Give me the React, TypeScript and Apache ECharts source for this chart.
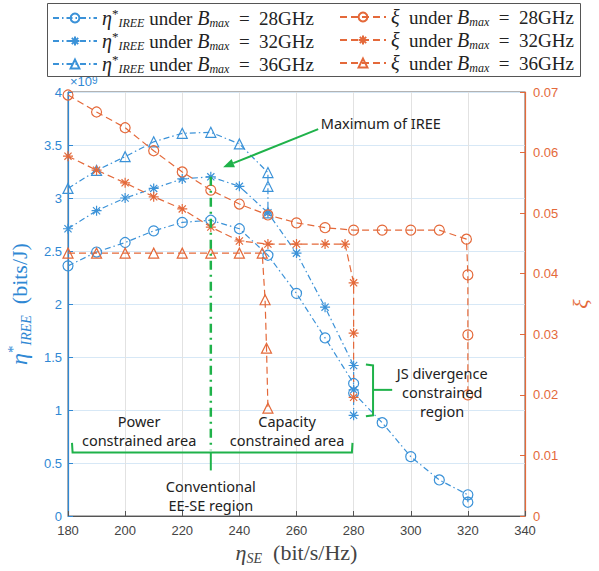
import React, { useEffect, useRef } from 'react';
import * as echarts from 'echarts';

// ---------- data ----------
const b28X = [180, 190, 200, 210, 220, 230, 240, 250, 260, 270, 280, 280, 290, 300, 310, 320, 320];
const b28Y = [2.36, 2.49, 2.58, 2.69, 2.77, 2.79, 2.71, 2.46, 2.10, 1.68, 1.25, 1.16, 0.88, 0.56, 0.34, 0.20, 0.13];

const b32X = [180, 190, 200, 210, 220, 230, 240, 250, 260, 270, 280, 280, 280];
const b32Y = [2.71, 2.88, 3.00, 3.09, 3.18, 3.20, 3.11, 2.86, 2.48, 1.97, 1.42, 1.19, 0.95];

const b36X = [180, 190, 200, 210, 220, 230, 240, 250, 250, 250];
const b36Y = [3.09, 3.26, 3.39, 3.53, 3.61, 3.62, 3.51, 3.24, 3.11, 2.86];

const r28X = [180, 190, 200, 210, 220, 230, 240, 250, 260, 270, 280, 290, 300, 310, 319.5, 320, 320, 320];
const r28Y = [0.0695, 0.0667, 0.0641, 0.0603, 0.0568, 0.0538, 0.0515, 0.0497, 0.0484, 0.0476, 0.0472, 0.0472, 0.0472, 0.0472, 0.0457, 0.0398, 0.0299, 0.0200];

const r32X = [180, 190, 200, 210, 220, 230, 240, 250, 260, 270, 277, 280, 280, 280];
const r32Y = [0.0594, 0.0571, 0.0550, 0.0527, 0.0507, 0.0477, 0.0454, 0.0449, 0.0449, 0.0449, 0.0449, 0.0385, 0.0302, 0.0196];

const r36X = [180, 190, 200, 210, 220, 230, 240, 248, 249, 249.5, 250];
const r36Y = [0.0434, 0.0434, 0.0434, 0.0434, 0.0434, 0.0434, 0.0434, 0.0434, 0.0357, 0.0277, 0.0178];

const bandwidths = ['28GHz', '32GHz', '36GHz'];

// ---------- style ----------
const BLUE = '#2f88d4';
const BLUE_LINE = '#3b92d8';
const ORANGE = '#e4693a';
const GREEN = '#1fb24a';
const SERIF = "'Liberation Serif','DejaVu Serif',serif";
const SANS = "'Liberation Sans',Arial,sans-serif";
const ANNO = "'Noto Sans','Open Sans',sans-serif";
const STAR = 'path://M0,-6L0,6M-6,0L6,0M-4.3,-4.3L4.3,4.3M-4.3,4.3L4.3,-4.3';
const DASHDOT = [6, 3, 1.5, 3];
const DASH = [7, 4];

function mk(name: string, xs: number[], ys: number[], color: string, yAxisIndex: number, symbol: string, dash: number[]) {
  return {
    name,
    type: 'line',
    yAxisIndex,
    data: xs.map((x, i) => [x, ys[i]]),
    symbol,
    symbolSize: 10,
    showSymbol: true,
    silent: true,
    emphasis: { disabled: true },
    lineStyle: { color, width: 1.2, type: dash },
    itemStyle: { color: 'rgba(255,255,255,0)', borderColor: color, borderWidth: 1.2 },
  };
}

const legendRich = {
  t: { fontFamily: SERIF, fontSize: 19, color: '#222', lineHeight: 22 },
  e: { fontFamily: SERIF, fontSize: 20, fontStyle: 'italic', color: '#222', lineHeight: 22 },
  sp: { fontFamily: SERIF, fontSize: 13, color: '#222', lineHeight: 12, verticalAlign: 'top' },
  sb: { fontFamily: SERIF, fontSize: 12, fontStyle: 'italic', color: '#222', lineHeight: 13, verticalAlign: 'bottom' },
};

export default function App() {
  const ref = useRef<HTMLDivElement>(null);
  useEffect(() => {
    const chart = echarts.init(ref.current!, null, { renderer: 'svg' });
    const labelFor = (name: string) => {
      const idx = ['28', '32', '36'].indexOf(name.slice(1));
      const bw = bandwidths[idx];
      if (name[0] === 'b') return `{e|η}{sp|*}{sb|IREE}{t| under }{e|B}{sb|max}{t|  =  ${bw}}`;
      return `{e|ξ}{t|  under }{e|B}{sb|max}{t|  =  ${bw}}`;
    };
    const legends: any[] = [];
    ['28', '32', '36'].forEach((k, i) => {
      legends.push({ data: ['b' + k], left: 47, top: 2 + i * 23, itemWidth: 44, itemHeight: 11, formatter: labelFor, textStyle: { rich: legendRich }, selectedMode: false });
      legends.push({ data: ['r' + k], left: 334, top: 2 + i * 23, itemWidth: 46, itemHeight: 11, formatter: labelFor, textStyle: { rich: legendRich }, selectedMode: false });
    });

    const option: any = {
      animation: false,
      backgroundColor: '#fff',
      grid: { left: 68, right: 74, top: 92, bottom: 55, outerBoundsMode: 'none', containLabel: false, show: true, borderColor: '#666', borderWidth: 1, backgroundColor: 'transparent' },
      legend: legends,
      xAxis: {
        type: 'value', min: 180, max: 340, interval: 20,
        name: '{e|η}{sb|SE}{t|  (bit/s/Hz)}', nameLocation: 'middle', nameGap: 21,
        nameTextStyle: { rich: {
          e: { fontFamily: SERIF, fontSize: 22, fontStyle: 'italic', color: '#444', lineHeight: 26 },
          sb: { fontFamily: SERIF, fontSize: 14, fontStyle: 'italic', color: '#444', lineHeight: 14, verticalAlign: 'bottom' },
          t: { fontFamily: SERIF, fontSize: 22, color: '#444', lineHeight: 26 },
        } },
        axisLine: { show: true, lineStyle: { color: '#555', width: 1 } },
        axisTick: { show: true, inside: true, length: 5, lineStyle: { color: '#555' } },
        axisLabel: { color: '#444', fontFamily: SANS, fontSize: 13, margin: 8 },
        splitLine: { show: true, lineStyle: { color: '#e2e2e2', width: 1 } },
      },
      yAxis: [
        {
          type: 'value', min: 0, max: 4, interval: 0.5, position: 'left',
          name: '{e|η}{sp|*}{sb|IREE}{t|  (bits/J)}', nameLocation: 'middle', nameGap: 29, nameRotate: 90,
          nameTextStyle: { rich: {
            e: { fontFamily: SERIF, fontSize: 24, fontStyle: 'italic', color: BLUE, lineHeight: 28 },
            sp: { fontFamily: SERIF, fontSize: 15, color: BLUE, lineHeight: 14, verticalAlign: 'top' },
            sb: { fontFamily: SERIF, fontSize: 14, fontStyle: 'italic', color: BLUE, lineHeight: 15, verticalAlign: 'bottom' },
            t: { fontFamily: SERIF, fontSize: 22, color: BLUE, lineHeight: 28 },
          } },
          axisLine: { show: true, lineStyle: { color: BLUE, width: 1.2 } },
          axisTick: { show: true, inside: true, length: 5, lineStyle: { color: BLUE } },
          axisLabel: { color: BLUE, fontFamily: SANS, fontSize: 13, margin: 6, formatter: (v: number) => String(v) },
          splitLine: { show: true, lineStyle: { color: '#d7e8f6', width: 1 } },
        },
        {
          type: 'value', min: 0, max: 0.07, interval: 0.01, position: 'right',
          name: 'ξ', nameLocation: 'middle', nameGap: 42, nameRotate: 90,
          nameTextStyle: { fontFamily: SERIF, fontSize: 22, fontStyle: 'italic', color: ORANGE },
          axisLine: { show: true, lineStyle: { color: ORANGE, width: 1.2 } },
          axisTick: { show: true, inside: true, length: 5, lineStyle: { color: ORANGE } },
          axisLabel: { color: ORANGE, fontFamily: SANS, fontSize: 13, margin: 8, formatter: (v: number) => String(+v.toFixed(2)) },
          splitLine: { show: false },
        },
      ],
      series: [
        mk('b28', b28X, b28Y, BLUE_LINE, 0, 'circle', DASHDOT),
        mk('b32', b32X, b32Y, BLUE_LINE, 0, STAR, DASHDOT),
        mk('b36', b36X, b36Y, BLUE_LINE, 0, 'triangle', DASHDOT),
        mk('r28', r28X, r28Y, ORANGE, 1, 'circle', DASH),
        mk('r32', r32X, r32Y, ORANGE, 1, STAR, DASH),
        mk('r36', r36X, r36Y, ORANGE, 1, 'triangle', DASH),
      ],
    };
    chart.setOption(option);

    const P = (x: number, y: number) => chart.convertToPixel({ xAxisIndex: 0, yAxisIndex: 0 }, [x, y]) as number[];
    const g: any[] = [];
    // legend box
    g.push({ type: 'rect', left: 45, top: 1, shape: { width: 533, height: 73 }, style: { fill: 'none', stroke: '#555', lineWidth: 1 }, z: 1 });
    // x10^9
    g.push({ type: 'text', left: 70, top: 75, style: { text: '×10{s|9}', fill: BLUE, font: `13px ${SANS}`, rich: { s: { fontSize: 10, fill: BLUE, verticalAlign: 'top', lineHeight: 10 } } } });
    // green vertical dash-dot
    const v1 = P(230, 3.2), v2 = P(230, 0.62);
    g.push({ type: 'line', shape: { x1: v1[0], y1: v1[1], x2: v2[0], y2: v2[1] }, style: { stroke: GREEN, lineWidth: 2.5, lineDash: [9, 5, 2, 5] }, z: 10 });
    // bottom brace
    const bp = [P(181.4, 0.69), P(181.6, 0.60), P(279.4, 0.60), P(279.6, 0.69)];
    g.push({ type: 'polyline', shape: { points: bp }, style: { stroke: GREEN, lineWidth: 2, fill: 'none' }, z: 10 });
    const t1 = P(230, 0.60), t2 = P(230, 0.43);
    g.push({ type: 'line', shape: { x1: t1[0], y1: t1[1], x2: t2[0], y2: t2[1] }, style: { stroke: GREEN, lineWidth: 2 }, z: 10 });
    // JS brace
    const jp = [P(284.3, 1.43), P(286.8, 1.42), P(286.8, 0.95), P(284.3, 0.94)];
    g.push({ type: 'polyline', shape: { points: jp }, style: { stroke: GREEN, lineWidth: 2, fill: 'none' }, z: 10 });
    const j1 = P(286.8, 1.19), j2 = P(293.5, 1.19);
    g.push({ type: 'line', shape: { x1: j1[0], y1: j1[1], x2: j2[0], y2: j2[1] }, style: { stroke: GREEN, lineWidth: 2 }, z: 10 });
    // arrow
    const a1 = P(267.6, 3.65), a2 = P(234.3, 3.29);
    const dx = a2[0] - a1[0], dy = a2[1] - a1[1];
    const len = Math.hypot(dx, dy);
    const ux = dx / len, uy = dy / len;
    const bx = a2[0] - ux * 11, by = a2[1] - uy * 11;
    g.push({ type: 'line', shape: { x1: a1[0], y1: a1[1], x2: bx, y2: by }, style: { stroke: GREEN, lineWidth: 2 }, z: 10 });
    g.push({ type: 'polygon', shape: { points: [a2, [bx - uy * 4.5, by + ux * 4.5], [bx + uy * 4.5, by - ux * 4.5]] }, style: { fill: GREEN }, z: 10 });
    // texts
    const txt = (x: number, y: number, s: string, align = 'center') => {
      const p = P(x, y);
      g.push({ type: 'text', x: p[0], y: p[1], style: { text: s, fill: '#222', font: `14.5px ${ANNO}`, align, verticalAlign: 'middle', lineHeight: 19 }, z: 11 });
    };
    txt(268.5, 3.71, 'Maximum of IREE', 'left');
    txt(204.9, 0.81, 'Power\nconstrained area');
    txt(256.7, 0.81, 'Capacity\nconstrained area');
    txt(230, 0.19, 'Conventional\nEE-SE region');
    txt(311, 1.17, 'JS divergence\nconstrained\nregion');
    chart.setOption({ graphic: g });

    return () => chart.dispose();
  }, []);
  return <div ref={ref} style={{ position: 'absolute', left: 0, top: 0, width: 599, height: 571 }} />;
}
